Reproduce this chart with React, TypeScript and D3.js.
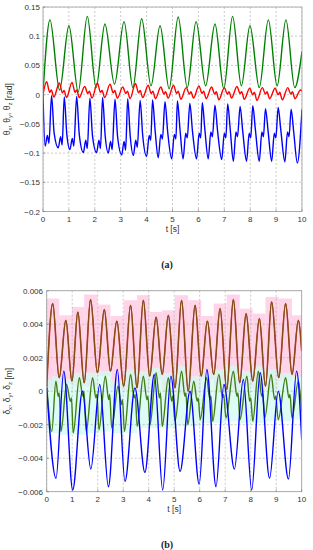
import React from "react";
import * as d3 from "d3";

type P = [number, number];

const X_TICKS = [0, 1, 2, 3, 4, 5, 6, 7, 8, 9, 10];
const X_LABELS = ["0", "1", "2", "3", "4", "5", "6", "7", "8", "9", "10"];

const Y_TICKS_A = [0.15, 0.1, 0.05, 0, -0.05, -0.1, -0.15, -0.2];
const Y_LABELS_A = ["0.15", "0.1", "0.05", "0", "\u22120.05", "\u22120.1", "\u22120.15", "\u22120.2"];
const Y_TICKS_B = [0.006, 0.004, 0.002, 0, -0.002, -0.004, -0.006];
const Y_LABELS_B = ["0.006", "0.004", "0.002", "0", "\u22120.002", "\u22120.004", "\u22120.006"];

// ---- panel (a) ----
const THETA_Y: P[] = [
  [0, 0.003], [0.27, 0.128], [0.64, 0.008], [1.0, 0.118], [1.36, 0.005], [1.71, 0.134], [2.05, 0.012],
  [2.39, 0.121], [2.76, 0.018], [3.13, 0.125], [3.47, 0.012], [3.81, 0.13], [4.17, 0.015], [4.52, 0.118],
  [4.87, 0.01], [5.22, 0.133], [5.57, 0.012], [5.91, 0.125], [6.28, 0.015], [6.64, 0.121], [6.98, 0.01],
  [7.32, 0.134], [7.66, 0.015], [7.99, 0.118], [8.35, 0.012], [8.7, 0.128], [9.04, 0.015], [9.38, 0.128],
  [9.72, 0.012], [10, 0.074],
];

const THETA_Z: P[] = [
  [0, 0.0],
  [0.14, 0.022], [0.26, 0.004], [0.32, 0.008], [0.42, -0.004],
  [0.63, 0.02], [0.75, 0.003], [0.81, 0.007], [0.91, -0.005],
  [1.12, 0.021], [1.24, 0.004], [1.3, 0.008], [1.4, -0.005],
  [1.61, 0.014], [1.73, 0.002], [1.79, 0.006], [1.89, -0.006],
  [2.1, 0.02], [2.22, 0.004], [2.28, 0.007], [2.38, -0.005],
  [2.59, 0.018], [2.71, 0.003], [2.77, 0.007], [2.87, -0.006],
  [3.08, 0.013], [3.2, 0.002], [3.26, 0.006], [3.36, -0.007],
  [3.57, 0.019], [3.69, 0.003], [3.75, 0.007], [3.85, -0.005],
  [4.06, 0.016], [4.18, 0.002], [4.24, 0.006], [4.34, -0.007],
  [4.55, 0.013], [4.67, 0.001], [4.73, 0.005], [4.83, -0.006],
  [5.04, 0.016], [5.16, 0.002], [5.22, 0.006], [5.32, -0.008],
  [5.53, 0.012], [5.65, 0.001], [5.71, 0.005], [5.81, -0.006],
  [6.02, 0.015], [6.14, 0.002], [6.2, 0.006], [6.3, -0.007],
  [6.51, 0.013], [6.63, 0.001], [6.69, 0.005], [6.79, -0.009],
  [7.0, 0.012], [7.12, 0.001], [7.18, 0.005], [7.28, -0.006],
  [7.49, 0.014], [7.61, 0.002], [7.67, 0.005], [7.77, -0.008],
  [7.98, 0.011], [8.1, 0.0], [8.16, 0.004], [8.26, -0.01],
  [8.47, 0.012], [8.59, 0.001], [8.65, 0.005], [8.75, -0.007],
  [8.96, 0.011], [9.08, 0.0], [9.14, 0.004], [9.24, -0.009],
  [9.45, 0.012], [9.57, 0.001], [9.63, 0.005], [9.73, -0.007],
  [9.94, 0.008], [10, 0.006],
];

const THETA_X: P[] = [
  [0, 0.0],
  [0.08, -0.088], [0.17, -0.07], [0.23, -0.083], [0.33, -0.002], [0.43, -0.066],
  [0.59, -0.091], [0.68, -0.072], [0.74, -0.086], [0.82, -0.004], [0.92, -0.068],
  [1.04, -0.094], [1.13, -0.075], [1.19, -0.088], [1.3, -0.003], [1.4, -0.068],
  [1.56, -0.099], [1.65, -0.078], [1.71, -0.092], [1.81, -0.006], [1.91, -0.07],
  [2.07, -0.099], [2.16, -0.078], [2.22, -0.092], [2.3, -0.005], [2.4, -0.07],
  [2.52, -0.1], [2.61, -0.08], [2.67, -0.094], [2.78, -0.008], [2.88, -0.072],
  [3.04, -0.103], [3.13, -0.08], [3.19, -0.095], [3.27, -0.007], [3.37, -0.072],
  [3.49, -0.104], [3.58, -0.078], [3.64, -0.09], [3.75, -0.01], [3.85, -0.07],
  [4.0, -0.106], [4.1, -0.07], [4.16, -0.078], [4.23, -0.009], [4.33, -0.062],
  [4.45, -0.108], [4.55, -0.068], [4.61, -0.076], [4.71, -0.012], [4.81, -0.062],
  [4.97, -0.11], [5.07, -0.068], [5.13, -0.076], [5.19, -0.011], [5.29, -0.06],
  [5.41, -0.11], [5.51, -0.066], [5.57, -0.074], [5.67, -0.015], [5.77, -0.062],
  [5.93, -0.11], [6.03, -0.066], [6.09, -0.074], [6.15, -0.014], [6.25, -0.06],
  [6.38, -0.11], [6.48, -0.064], [6.54, -0.072], [6.64, -0.018], [6.74, -0.062],
  [6.9, -0.111], [7.0, -0.066], [7.06, -0.074], [7.13, -0.016], [7.23, -0.06],
  [7.35, -0.114], [7.45, -0.064], [7.51, -0.072], [7.61, -0.02], [7.71, -0.062],
  [7.86, -0.114], [7.96, -0.066], [8.02, -0.074], [8.1, -0.019], [8.2, -0.06],
  [8.35, -0.114], [8.45, -0.064], [8.51, -0.072], [8.59, -0.024], [8.69, -0.062],
  [8.83, -0.114], [8.93, -0.066], [8.99, -0.074], [9.08, -0.022], [9.18, -0.06],
  [9.34, -0.115], [9.44, -0.064], [9.5, -0.072], [9.58, -0.025], [9.68, -0.064],
  [9.82, -0.117], [10, -0.025],
];

// ---- panel (b) ----
const DZ_PEAKS: P[] = [
  [0.235, 0.00523], [0.75, 0.00423], [1.22, 0.00473], [1.72, 0.00547], [2.26, 0.00487], [2.75, 0.00419],
  [3.29, 0.00513], [3.79, 0.00543], [4.29, 0.00443], [4.77, 0.00453], [5.29, 0.00543], [5.82, 0.00513],
  [6.3, 0.00419], [6.8, 0.00493], [7.32, 0.00547], [7.82, 0.00463], [8.34, 0.00433], [8.82, 0.00533],
  [9.37, 0.00523], [9.87, 0.00423],
];
const DZ_TROUGHS: P[] = [
  [0.49, 0.0008], [0.99, 0.0006], [1.47, 0.0005], [1.99, 0.0011], [2.5, 0.0012], [3.02, 0.0003],
  [3.54, 0.0002], [4.04, 0.0009], [4.53, 0.001], [5.03, 0.0002], [5.55, 0.0], [6.06, 0.0009],
  [6.55, 0.001], [7.06, 0.0001], [7.57, 0.0005], [8.08, 0.0006], [8.58, 0.0003], [9.1, 0.0008],
  [9.62, 0.001],
];
const DZ_ENDS: P[] = [[0, 0.0003], [10, 0.0024]];

const DY_PEAKS: P[] = [
  [0.36, 0.0006], [0.78, 0.0004], [1.28, 0.0008], [1.8, 0.0008], [2.3, 0.0009], [2.8, 0.0003],
  [3.29, 0.001], [3.79, 0.0009], [4.29, 0.0011], [4.77, 0.0008], [5.29, 0.0012], [5.77, 0.0006],
  [6.27, 0.0008], [6.75, 0.001], [7.32, 0.0012], [7.85, 0.0009], [8.3, 0.0012], [8.8, 0.001],
  [9.37, 0.0008], [9.87, 0.0006],
];
const DY_TROUGHS: P[] = [
  [0.2, -0.0024], [0.56, -0.0024], [1.04, -0.0025], [1.55, -0.0024], [2.05, -0.0023], [2.55, -0.0022],
  [3.05, -0.0024], [3.55, -0.0021], [4.05, -0.002], [4.53, -0.0021], [5.03, -0.0018], [5.53, -0.002],
  [6.02, -0.0017], [6.51, -0.0018], [7.03, -0.0016], [7.58, -0.0017], [8.08, -0.0018], [8.55, -0.0016],
  [9.08, -0.0017], [9.62, -0.0016],
];
const DY_WIGGLES: P[] = [
  [0.45, -0.0003], [0.49, -0.0001], [0.93, -0.0006], [0.97, -0.0004], [1.42, -0.0003], [1.46, 0.0],
  [1.93, -0.0004], [1.97, -0.0002], [2.43, -0.0005], [2.47, -0.0002], [2.93, -0.0008], [2.97, -0.0005],
  [3.43, -0.0004], [3.47, -0.0002], [3.93, -0.0005], [3.97, -0.0003], [4.42, -0.0004], [4.46, -0.0001],
  [4.9, -0.0006], [4.94, -0.0003], [5.42, -0.0003], [5.46, -0.0001], [5.9, -0.0006], [5.94, -0.0004],
  [6.4, -0.0005], [6.44, -0.0003], [6.9, -0.0004], [6.94, -0.0002], [7.46, -0.0003], [7.5, -0.0001],
  [7.96, -0.0006], [8.0, -0.0004], [8.43, -0.0003], [8.47, -0.0001], [8.94, -0.0005], [8.98, -0.0003],
  [9.5, -0.0004], [9.54, -0.0002],
];
const DY_ENDS: P[] = [[0, 0.0004], [10, -0.0012]];

const DX_PEAKS: P[] = [
  [0.67, 0.0012], [1.4, 0.0], [2.08, 0.0004], [2.77, 0.0013], [3.46, 0.0002], [4.22, 0.001], [4.87, 0.0009],
  [5.62, 0.0], [6.28, 0.0013], [6.95, 0.0004], [7.71, 0.0007], [8.37, 0.0011], [9.08, 0.0], [9.8, 0.0012],
];
const DX_TROUGHS: P[] = [
  [0.365, -0.0052], [1.02, -0.0059], [1.73, -0.00465], [2.42, -0.0057], [3.07, -0.0054], [3.85, -0.00485],
  [4.55, -0.0059], [5.23, -0.0048], [5.98, -0.00555], [6.64, -0.0057], [7.36, -0.00465], [8.04, -0.0059],
  [8.74, -0.0052], [9.48, -0.00525],
];
const DX_ENDS: P[] = [[0, 0.0002], [10, -0.0029]];

const merge = (...arrs: P[][]): P[] => arrs.flat().sort((a, b) => a[0] - b[0]);

function envelope(points: P[], bounds: number[], padHi: number, padLo: number) {
  const segs: { a: number; b: number; lo: number; hi: number }[] = [];
  for (let i = 0; i < bounds.length - 1; i++) {
    const a = bounds[i], b = bounds[i + 1];
    const inside = points.filter((p) => p[0] >= a - 1e-9 && p[0] <= b + 1e-9);
    segs.push({ a, b, hi: (d3.max(inside, (p) => p[1]) as number) + padHi, lo: (d3.min(inside, (p) => p[1]) as number) - padLo });
  }
  return segs;
}

const FONT = "'Liberation Sans', Arial, sans-serif";

type Series = { data: P[]; color: string; width: number };
type Band = { segs: { a: number; b: number; lo: number; hi: number }[]; color: string; opacity: number };

function Panel(props: {
  id: string; left: number; right: number; top: number; bottom: number;
  yDomain: [number, number]; yTicks: number[]; yLabels: string[];
  series: Series[]; bands: Band[]; yTitle: React.ReactNode; caption: string; labelRight: number;
}) {
  const { id, left, right, top, bottom, yDomain, yTicks, yLabels, series, bands } = props;
  const xs = d3.scaleLinear().domain([0, 10]).range([left, right]);
  const ys = d3.scaleLinear().domain(yDomain).range([bottom, top]);
  const line = d3.line<P>().x((d) => xs(d[0])).y((d) => ys(d[1])).curve(d3.curveMonotoneX);
  const cx = (left + right) / 2;
  return (
    <g>
      <defs>
        <clipPath id={id}>
          <rect x={left} y={top} width={right - left} height={bottom - top} />
        </clipPath>
      </defs>
      <rect x={left} y={top} width={right - left} height={bottom - top} fill="#fff" />
      <g clipPath={`url(#${id})`}>
        {bands.map((b, i) => (
          <g key={i} fill={b.color} opacity={b.opacity}>
            {b.segs.map((s, j) => (
              <rect key={j} x={xs(s.a)} width={xs(s.b) - xs(s.a)} y={ys(s.hi)} height={ys(s.lo) - ys(s.hi)} />
            ))}
          </g>
        ))}
        {X_TICKS.map((t) => (
          <line key={"gx" + t} x1={xs(t)} x2={xs(t)} y1={top} y2={bottom} stroke="#a8a8a8" strokeWidth={0.6} strokeDasharray="2,2" />
        ))}
        {yTicks.map((t) => (
          <line key={"gy" + t} x1={left} x2={right} y1={ys(t)} y2={ys(t)} stroke="#a8a8a8" strokeWidth={0.6} strokeDasharray="2,2" />
        ))}
        {series.map((s, i) => (
          <path key={i} d={line(s.data) as string} fill="none" stroke={s.color} strokeWidth={s.width} strokeLinejoin="round" />
        ))}
      </g>
      <rect x={left} y={top} width={right - left} height={bottom - top} fill="none" stroke="#9a9a9a" strokeWidth={0.8} />
      {X_TICKS.map((t, i) => (
        <g key={"tx" + t}>
          <line x1={xs(t)} x2={xs(t)} y1={bottom} y2={bottom - 2.5} stroke="#777" strokeWidth={0.6} />
          <text x={xs(t)} y={bottom + 10.5} fontSize={8} fontFamily={FONT} fill="#333" textAnchor="middle">{X_LABELS[i]}</text>
        </g>
      ))}
      {yTicks.map((t, i) => (
        <g key={"ty" + t}>
          <line x1={left} x2={left + 2.5} y1={ys(t)} y2={ys(t)} stroke="#777" strokeWidth={0.6} />
          <text x={props.labelRight} y={ys(t) + 3} fontSize={8} fontFamily={FONT} fill="#333" textAnchor="end">{yLabels[i]}</text>
        </g>
      ))}
      <text x={cx} y={bottom + 20.5} fontSize={8.5} fontFamily={FONT} fill="#333" textAnchor="middle">t [s]</text>
      <text transform={`translate(10,${(top + bottom) / 2}) rotate(-90)`} fontSize={8.5} fontFamily={FONT} fill="#333" textAnchor="middle">
        {props.yTitle}
      </text>
      <text x={167} y={bottom + 56} fontSize={10} fontWeight="bold" fontFamily="'Liberation Serif', 'Times New Roman', serif" fill="#222" textAnchor="middle">
        {props.caption}
      </text>
    </g>
  );
}

function sub(sym: string, s: string, last = false) {
  return (
    <>
      <tspan>{sym}</tspan>
      <tspan dy={2} fontSize={6}>{s}</tspan>
      <tspan dy={-2}>{last ? "" : ", "}</tspan>
    </>
  );
}

export default function App() {
  const dz = merge(DZ_ENDS, DZ_PEAKS, DZ_TROUGHS);
  const dy = merge(DY_ENDS, DY_PEAKS, DY_TROUGHS, DY_WIGGLES);
  const dx = merge(DX_ENDS, DX_PEAKS, DX_TROUGHS);
  const pinkSegs = envelope(dz, [0, ...DZ_TROUGHS.map((p) => p[0]), 10], 0.0003, 0.0002);
  const cyanSegs = envelope(dy, [0, ...DY_TROUGHS.map((p) => p[0]), 10], 0.0003, 0.0001);
  return (
    <svg width={313} height={550} style={{ position: "absolute", left: 0, top: 0, background: "#fff" }}>
      <Panel
        id="clipA" left={43} right={302} top={7} bottom={211.5}
        yDomain={[-0.2, 0.15]} yTicks={Y_TICKS_A} yLabels={Y_LABELS_A} labelRight={40}
        bands={[]}
        series={[
          { data: THETA_Y, color: "#008000", width: 1.4 },
          { data: THETA_Z, color: "#ff0000", width: 1.4 },
          { data: THETA_X, color: "#0000ff", width: 1.4 },
        ]}
        yTitle={<>{sub("θ", "x")}{sub("θ", "y")}{sub("θ", "z", true)}<tspan> [rad]</tspan></>}
        caption="(a)"
      />
      <Panel
        id="clipB" left={46.7} right={301.7} top={290.7} bottom={491.7}
        yDomain={[-0.006, 0.006]} yTicks={Y_TICKS_B} yLabels={Y_LABELS_B} labelRight={43}
        bands={[
          { segs: pinkSegs, color: "#ffcfe6", opacity: 0.9 },
          { segs: cyanSegs, color: "#d2fbf2", opacity: 0.75 },
        ]}
        series={[
          { data: dz, color: "#c0392b", width: 1.6 },
          { data: dz, color: "#7a5214", width: 1.0 },
          { data: dy, color: "#3f7f14", width: 1.4 },
          { data: dx, color: "#0000ff", width: 1.4 },
        ]}
        yTitle={<>{sub("δ", "x")}{sub("δ", "y")}{sub("δ", "z", true)}<tspan> [m]</tspan></>}
        caption="(b)"
      />
    </svg>
  );
}
